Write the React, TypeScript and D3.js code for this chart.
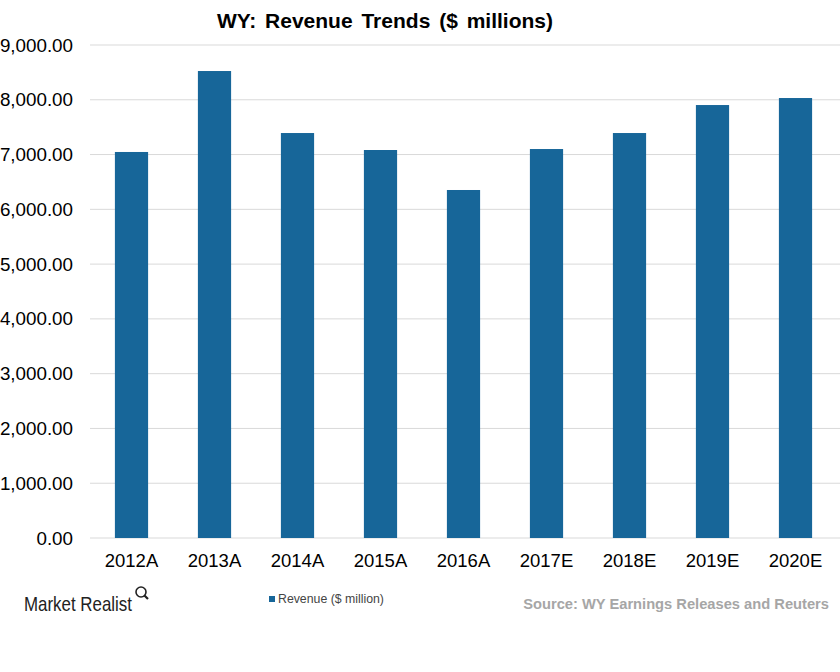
import React, { useEffect, useRef } from 'react';
import * as d3 from 'd3';

const categories = ['2012A', '2013A', '2014A', '2015A', '2016A', '2017E', '2018E', '2019E', '2020E'];
const revenue = [7047, 8525, 7393, 7083, 6353, 7101, 7393, 7904, 8032];
const yTicks = [0, 1000, 2000, 3000, 4000, 5000, 6000, 7000, 8000, 9000];

const WIDTH = 840;
const HEIGHT = 672;

const App: React.FC = () => {
  const svgRef = useRef<SVGSVGElement>(null);

  useEffect(() => {
    document.body.style.margin = '0';
    if (!svgRef.current) return;
    const svg = d3.select(svgRef.current);
    svg.selectAll('*').remove();

    const margin = { top: 45, right: 3, bottom: 134, left: 90 };
    const x = d3.scaleBand<string>()
      .domain(categories)
      .range([margin.left, WIDTH - margin.right])
      .paddingInner(0.6)
      .paddingOuter(0.3);
    const y = d3.scaleLinear().domain([0, 9000]).range([HEIGHT - margin.bottom, margin.top]);

    const font = '"Liberation Sans", Arial, sans-serif';

    // gridlines
    svg.append('g')
      .selectAll('line')
      .data(yTicks)
      .enter()
      .append('line')
      .attr('x1', margin.left)
      .attr('x2', WIDTH)
      .attr('y1', (d) => y(d))
      .attr('y2', (d) => y(d))
      .attr('stroke', '#d9d9d9')
      .attr('stroke-width', 1);

    // y labels
    svg.append('g')
      .selectAll('text')
      .data(yTicks)
      .enter()
      .append('text')
      .attr('x', 73)
      .attr('y', (d) => y(d))
      .attr('dy', '0.35em')
      .attr('text-anchor', 'end')
      .attr('font-family', font)
      .attr('font-size', 18.8)
      .attr('fill', '#000')
      .text((d) => d3.format(',.2f')(d));

    // bars
    svg.append('g')
      .selectAll('rect')
      .data(revenue)
      .enter()
      .append('rect')
      .attr('x', (_, i) => x(categories[i])!)
      .attr('width', x.bandwidth())
      .attr('y', (d) => y(d))
      .attr('height', (d) => y(0) - y(d))
      .attr('fill', '#176699');

    // x labels
    svg.append('g')
      .selectAll('text')
      .data(categories)
      .enter()
      .append('text')
      .attr('x', (d) => x(d)! + x.bandwidth() / 2)
      .attr('y', 567)
      .attr('text-anchor', 'middle')
      .attr('font-family', font)
      .attr('font-size', 18.5)
      .attr('fill', '#000')
      .text((d) => d);

    // title
    svg.append('text')
      .attr('x', 385)
      .attr('y', 28)
      .attr('text-anchor', 'middle')
      .attr('font-family', font)
      .attr('font-size', 21)
      .attr('font-weight', 'bold')
      .attr('word-spacing', 3)
      .attr('fill', '#000')
      .text('WY: Revenue Trends ($ millions)');

    // legend
    svg.append('rect')
      .attr('x', 269)
      .attr('y', 596)
      .attr('width', 6)
      .attr('height', 6)
      .attr('fill', '#176699');
    svg.append('text')
      .attr('x', 278)
      .attr('y', 603)
      .attr('font-family', font)
      .attr('font-size', 12.3)
      .attr('fill', '#444')
      .text('Revenue ($ million)');

    // logo
    const logo = svg.append('g');
    logo.append('text')
      .attr('x', 24)
      .attr('y', 611)
      .attr('font-family', '"Liberation Sans", sans-serif')
      .attr('font-size', 21)
      .attr('textLength', 108)
      .attr('lengthAdjust', 'spacingAndGlyphs')
      .attr('fill', '#222')
      .text('Market Realist');
    logo.append('circle')
      .attr('cx', 141)
      .attr('cy', 592)
      .attr('r', 5)
      .attr('fill', 'none')
      .attr('stroke', '#222')
      .attr('stroke-width', 1.6);
    logo.append('line')
      .attr('x1', 144.5)
      .attr('y1', 595.5)
      .attr('x2', 148)
      .attr('y2', 599)
      .attr('stroke', '#222')
      .attr('stroke-width', 2.2);

    // source
    svg.append('text')
      .attr('x', 829)
      .attr('y', 609)
      .attr('text-anchor', 'end')
      .attr('font-family', font)
      .attr('font-size', 14.7)
      .attr('font-weight', 'bold')
      .attr('fill', '#a6a6a6')
      .text('Source: WY Earnings Releases and Reuters');
  }, []);

  return <svg ref={svgRef} width={WIDTH} height={HEIGHT} style={{ display: 'block', background: '#fff' }} />;
};

export default App;
